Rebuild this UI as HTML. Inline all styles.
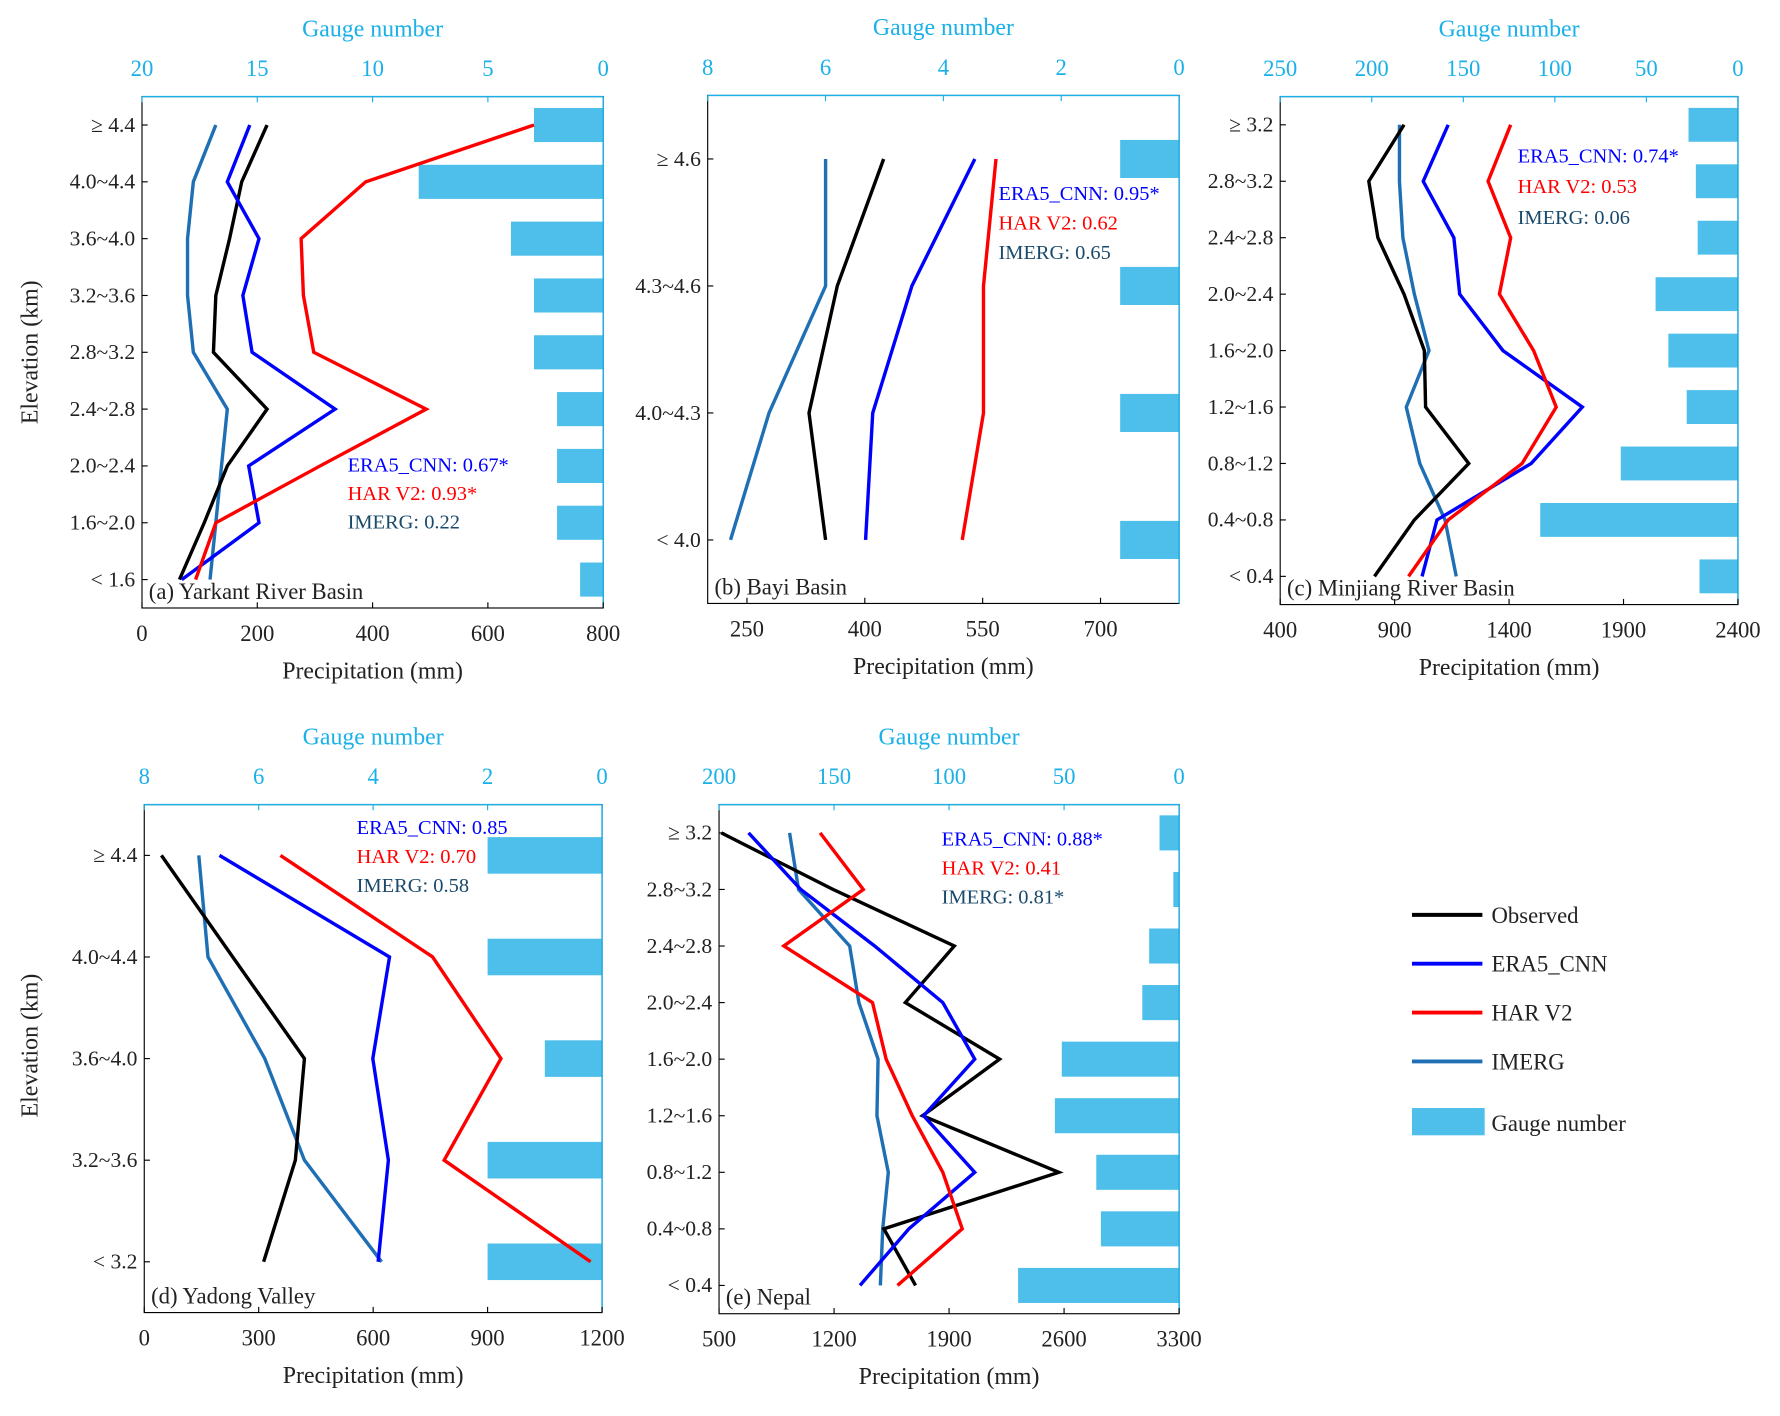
<!DOCTYPE html>
<html><head><meta charset="utf-8">
<style>
html,body{margin:0;padding:0;background:#fff;}
svg{display:block;font-family:"Liberation Serif",serif;}
</style></head>
<body>
<svg id="chart" width="1780" height="1416" viewBox="0 0 1567 1246" preserveAspectRatio="none" xmlns="http://www.w3.org/2000/svg"></svg>
<script>
// Panel (a) Yarkant River Basin
const catsA = ["< 1.6","1.6~2.0","2.0~2.4","2.4~2.8","2.8~3.2","3.2~3.6","3.6~4.0","4.0~4.4","≥ 4.4"];
const obsA = [65,108,148,217,124,128,152,173,217];
const eraA = [69,203,185,335,191,175,203,148,187];
const harA = [93,128,309,493,298,280,276,388,680];
const imgA = [118,128,138,148,89,79,79,89,128];
const gaugeA = [1,2,2,2,3,3,4,8,3];
const xTicksA = [0,200,400,600,800];
const gTicksA = [20,15,10,5,0];
// Panel (b) Bayi Basin
const catsB = ["< 4.0","4.0~4.3","4.3~4.6","≥ 4.6"];
const obsB = [350,329,365,424];
const eraB = [401,410,460,540];
const harB = [524,551,551,567];
const imgB = [229,278,350,350];
const gaugeB = [1,1,1,1];
const xTicksB = [250,400,550,700];
const gTicksB = [8,6,4,2,0];
// Panel (c) Minjiang River Basin
const catsC = ["< 0.4","0.4~0.8","0.8~1.2","1.2~1.6","1.6~2.0","2.0~2.4","2.4~2.8","2.8~3.2","≥ 3.2"];
const obsC = [812,986,1224,1035,1030,941,827,787,941];
const eraC = [1020,1085,1497,1720,1373,1184,1159,1025,1134];
const harC = [961,1134,1457,1606,1507,1358,1407,1308,1407];
const imgC = [1169,1120,1010,951,1050,986,936,921,921];
const gaugeC = [21,108,64,28,38,45,22,23,27];
const xTicksC = [400,900,1400,1900,2400];
const gTicksC = [250,200,150,100,50,0];
// Panel (d) Yadong Valley
const catsD = ["< 3.2","3.2~3.6","3.6~4.0","4.0~4.4","≥ 4.4"];
const obsD = [313,396,420,232,45];
const eraD = [613,640,599,643,197];
const harD = [1170,786,935,756,357];
const imgD = [622,420,316,167,143];
const gaugeD = [2,2,1,2,2];
const xTicksD = [0,300,600,900,1200];
const gTicksD = [8,6,4,2,0];
// Panel (e) Nepal
const catsE = ["< 0.4","0.4~0.8","0.8~1.2","1.2~1.6","1.6~2.0","2.0~2.4","2.4~2.8","2.8~3.2","≥ 3.2"];
const obsE = [1696,1503,2568,1738,2208,1634,1932,1195,514];
const eraE = [1358,1655,2056,1745,2056,1862,1447,998,680];
const harE = [1586,1980,1862,1676,1517,1434,894,1378,1115];
const imgE = [1482,1496,1530,1461,1468,1351,1295,984,929];
const gaugeE = [70,34,36,54,51,16,13,2.5,8.5];
const xTicksE = [500,1200,1900,2600,3300];
const gTicksE = [200,150,100,50,0];

const NS="http://www.w3.org/2000/svg";
const svg=document.getElementById('chart');
function mk(tag,attrs,parent,text){const e=document.createElementNS(NS,tag);for(const k in attrs)e.setAttribute(k,attrs[k]);if(text!==undefined)e.textContent=text;(parent||svg).appendChild(e);return e;}
const C={obs:"#000000",era:"#0000ff",har:"#ff0000",img:"#1f6fb5",gauge:"#4dbfea",tick:"#1ab0e8",imgTxt:"#1a4a6b"};

function panel(p){
  const g=mk('g',{});
  
  
  const xs=v=>p.x0+(v-p.xmin)/(p.xmax-p.xmin)*(p.x1-p.x0);
  const n=p.cats.length;
  const ys=i=>p.y1-(i+0.5)/n*(p.y1-p.y0);
  const gs=v=>p.x1-v/p.gmax*(p.x1-p.x0);
  const bh=(p.y1-p.y0)/n*p.bf;
  p.gauge.forEach((v,i)=>{
    const r=mk('rect',{x:gs(v),y:ys(i)-bh/2,width:p.x1-gs(v),height:bh,fill:C.gauge},g);
    
    
  });
  const box=mk('rect',{x:p.x0,y:p.y0,width:p.x1-p.x0,height:p.y1-p.y0,fill:'none',stroke:'#000','stroke-width':1},g);
  
  
  mk('line',{x1:p.x0,y1:p.y0,x2:p.x1,y2:p.y0,stroke:C.tick,'stroke-width':1.2},g);
  mk('line',{x1:p.x1,y1:p.y0,x2:p.x1,y2:p.y1,stroke:C.tick,'stroke-width':1.2},g);
  p.cats.forEach((c,i)=>{
    mk('line',{x1:p.x0,y1:ys(i),x2:p.x0+5,y2:ys(i),stroke:'#000'},g);
    const t=mk('text',{x:p.x0-6,y:ys(i)+6,'text-anchor':'end','font-size':19,fill:'#222'},g,c);
    
    
  });
  p.xt.forEach(v=>{
    mk('line',{x1:xs(v),y1:p.y1,x2:xs(v),y2:p.y1-5,stroke:'#000'},g);
    const t=mk('text',{x:xs(v),y:p.y1+29,'text-anchor':'middle','font-size':20,fill:'#222'},g,String(v));
    
    
  });
  p.gt.forEach(v=>{
    mk('line',{x1:gs(v),y1:p.y0,x2:gs(v),y2:p.y0+5,stroke:C.tick},g);
    const t=mk('text',{x:gs(v),y:p.y0-18,'text-anchor':'middle','font-size':20,fill:C.tick},g,String(v));
    
    
  });
  const gt=mk('text',{x:(p.x0+p.x1)/2,y:p.y0-53,'text-anchor':'middle','font-size':21,fill:C.tick},g,'Gauge number');
  
  
  const xt=mk('text',{x:(p.x0+p.x1)/2,y:p.y1+62,'text-anchor':'middle','font-size':21,fill:'#222'},g,'Precipitation (mm)');
  
  
  [['img',p.img],['obs',p.obs],['era',p.era],['har',p.har]].forEach(([k,arr])=>{
    const pts=arr.map((v,i)=>xs(v).toFixed(1)+','+ys(i).toFixed(1)).join(' ');
    const l=mk('polyline',{points:pts,fill:'none',stroke:C[k],'stroke-width':3,'stroke-linejoin':'miter'},g);
    
    
  });
  const ann=[[p.ann[0],C.era],[p.ann[1],C.har],[p.ann[2],C.imgTxt]];
  ann.forEach(([s,col],j)=>{
    const t=mk('text',{x:p.ax,y:p.ay+j*p.ad,'font-size':18,fill:col},g,s);
    
    
  });
  const pl=mk('text',{x:p.x0+6,y:p.y1-8,'font-size':20,fill:'#222'},g,p.label);
  
  
}

panel({id:'a',x0:125,x1:531,y0:85,y1:535,xmin:0,xmax:800,gmax:20,bf:0.6,cats:catsA,obs:obsA,era:eraA,har:harA,img:imgA,gauge:gaugeA,xt:xTicksA,gt:gTicksA,ann:['ERA5_CNN: 0.67*','HAR V2: 0.93*','IMERG: 0.22'],ax:306,ay:415,ad:25,label:'(a) Yarkant River Basin'});
panel({id:'b',x0:623,x1:1038,y0:84,y1:531,xmin:200,xmax:800,gmax:8,bf:0.3,cats:catsB,obs:obsB,era:eraB,har:harB,img:imgB,gauge:gaugeB,xt:xTicksB,gt:gTicksB,ann:['ERA5_CNN: 0.95*','HAR V2: 0.62','IMERG: 0.65'],ax:879,ay:176,ad:26,label:'(b) Bayi Basin'});
panel({id:'c',x0:1127,x1:1530,y0:85,y1:532,xmin:400,xmax:2400,gmax:250,bf:0.6,cats:catsC,obs:obsC,era:eraC,har:harC,img:imgC,gauge:gaugeC,xt:xTicksC,gt:gTicksC,ann:['ERA5_CNN: 0.74*','HAR V2: 0.53','IMERG: 0.06'],ax:1336,ay:143,ad:27,label:'(c) Minjiang River Basin'});
panel({id:'d',x0:127,x1:530,y0:708,y1:1155,xmin:0,xmax:1200,gmax:8,bf:0.36,cats:catsD,obs:obsD,era:eraD,har:harD,img:imgD,gauge:gaugeD,xt:xTicksD,gt:gTicksD,ann:['ERA5_CNN: 0.85','HAR V2: 0.70','IMERG: 0.58'],ax:314,ay:734,ad:25.5,label:'(d) Yadong Valley'});
panel({id:'e',x0:633,x1:1038,y0:708,y1:1156,xmin:500,xmax:3300,gmax:200,bf:0.62,cats:catsE,obs:obsE,era:eraE,har:harE,img:imgE,gauge:gaugeE,xt:xTicksE,gt:gTicksE,ann:['ERA5_CNN: 0.88*','HAR V2: 0.41','IMERG: 0.81*'],ax:829,ay:744,ad:25.5,label:'(e) Nepal'});

[[310],[920]].forEach(([cy])=>{
  const t=mk('text',{x:0,y:0,transform:'translate(33,'+cy+') rotate(-90)','text-anchor':'middle','font-size':21,fill:'#222'},svg,'Elevation (km)');
  
  
});

const lg=mk('g',{});


[['Observed',C.obs,805],['ERA5_CNN',C.era,848],['HAR V2',C.har,891],['IMERG',C.img,934]].forEach(([s,col,y])=>{
  const e=mk('g',{},lg);
  
  
  mk('line',{x1:1243,y1:y,x2:1305,y2:y,stroke:col,'stroke-width':3.5},e);
  mk('text',{x:1313,y:y+7,'font-size':20,fill:'#222'},e,s);
});
const ge=mk('g',{},lg);


mk('rect',{x:1243,y:975,width:64,height:24,fill:C.gauge},ge);
mk('text',{x:1313,y:995,'font-size':20,fill:'#222'},ge,'Gauge number');
</script>
</body></html>
